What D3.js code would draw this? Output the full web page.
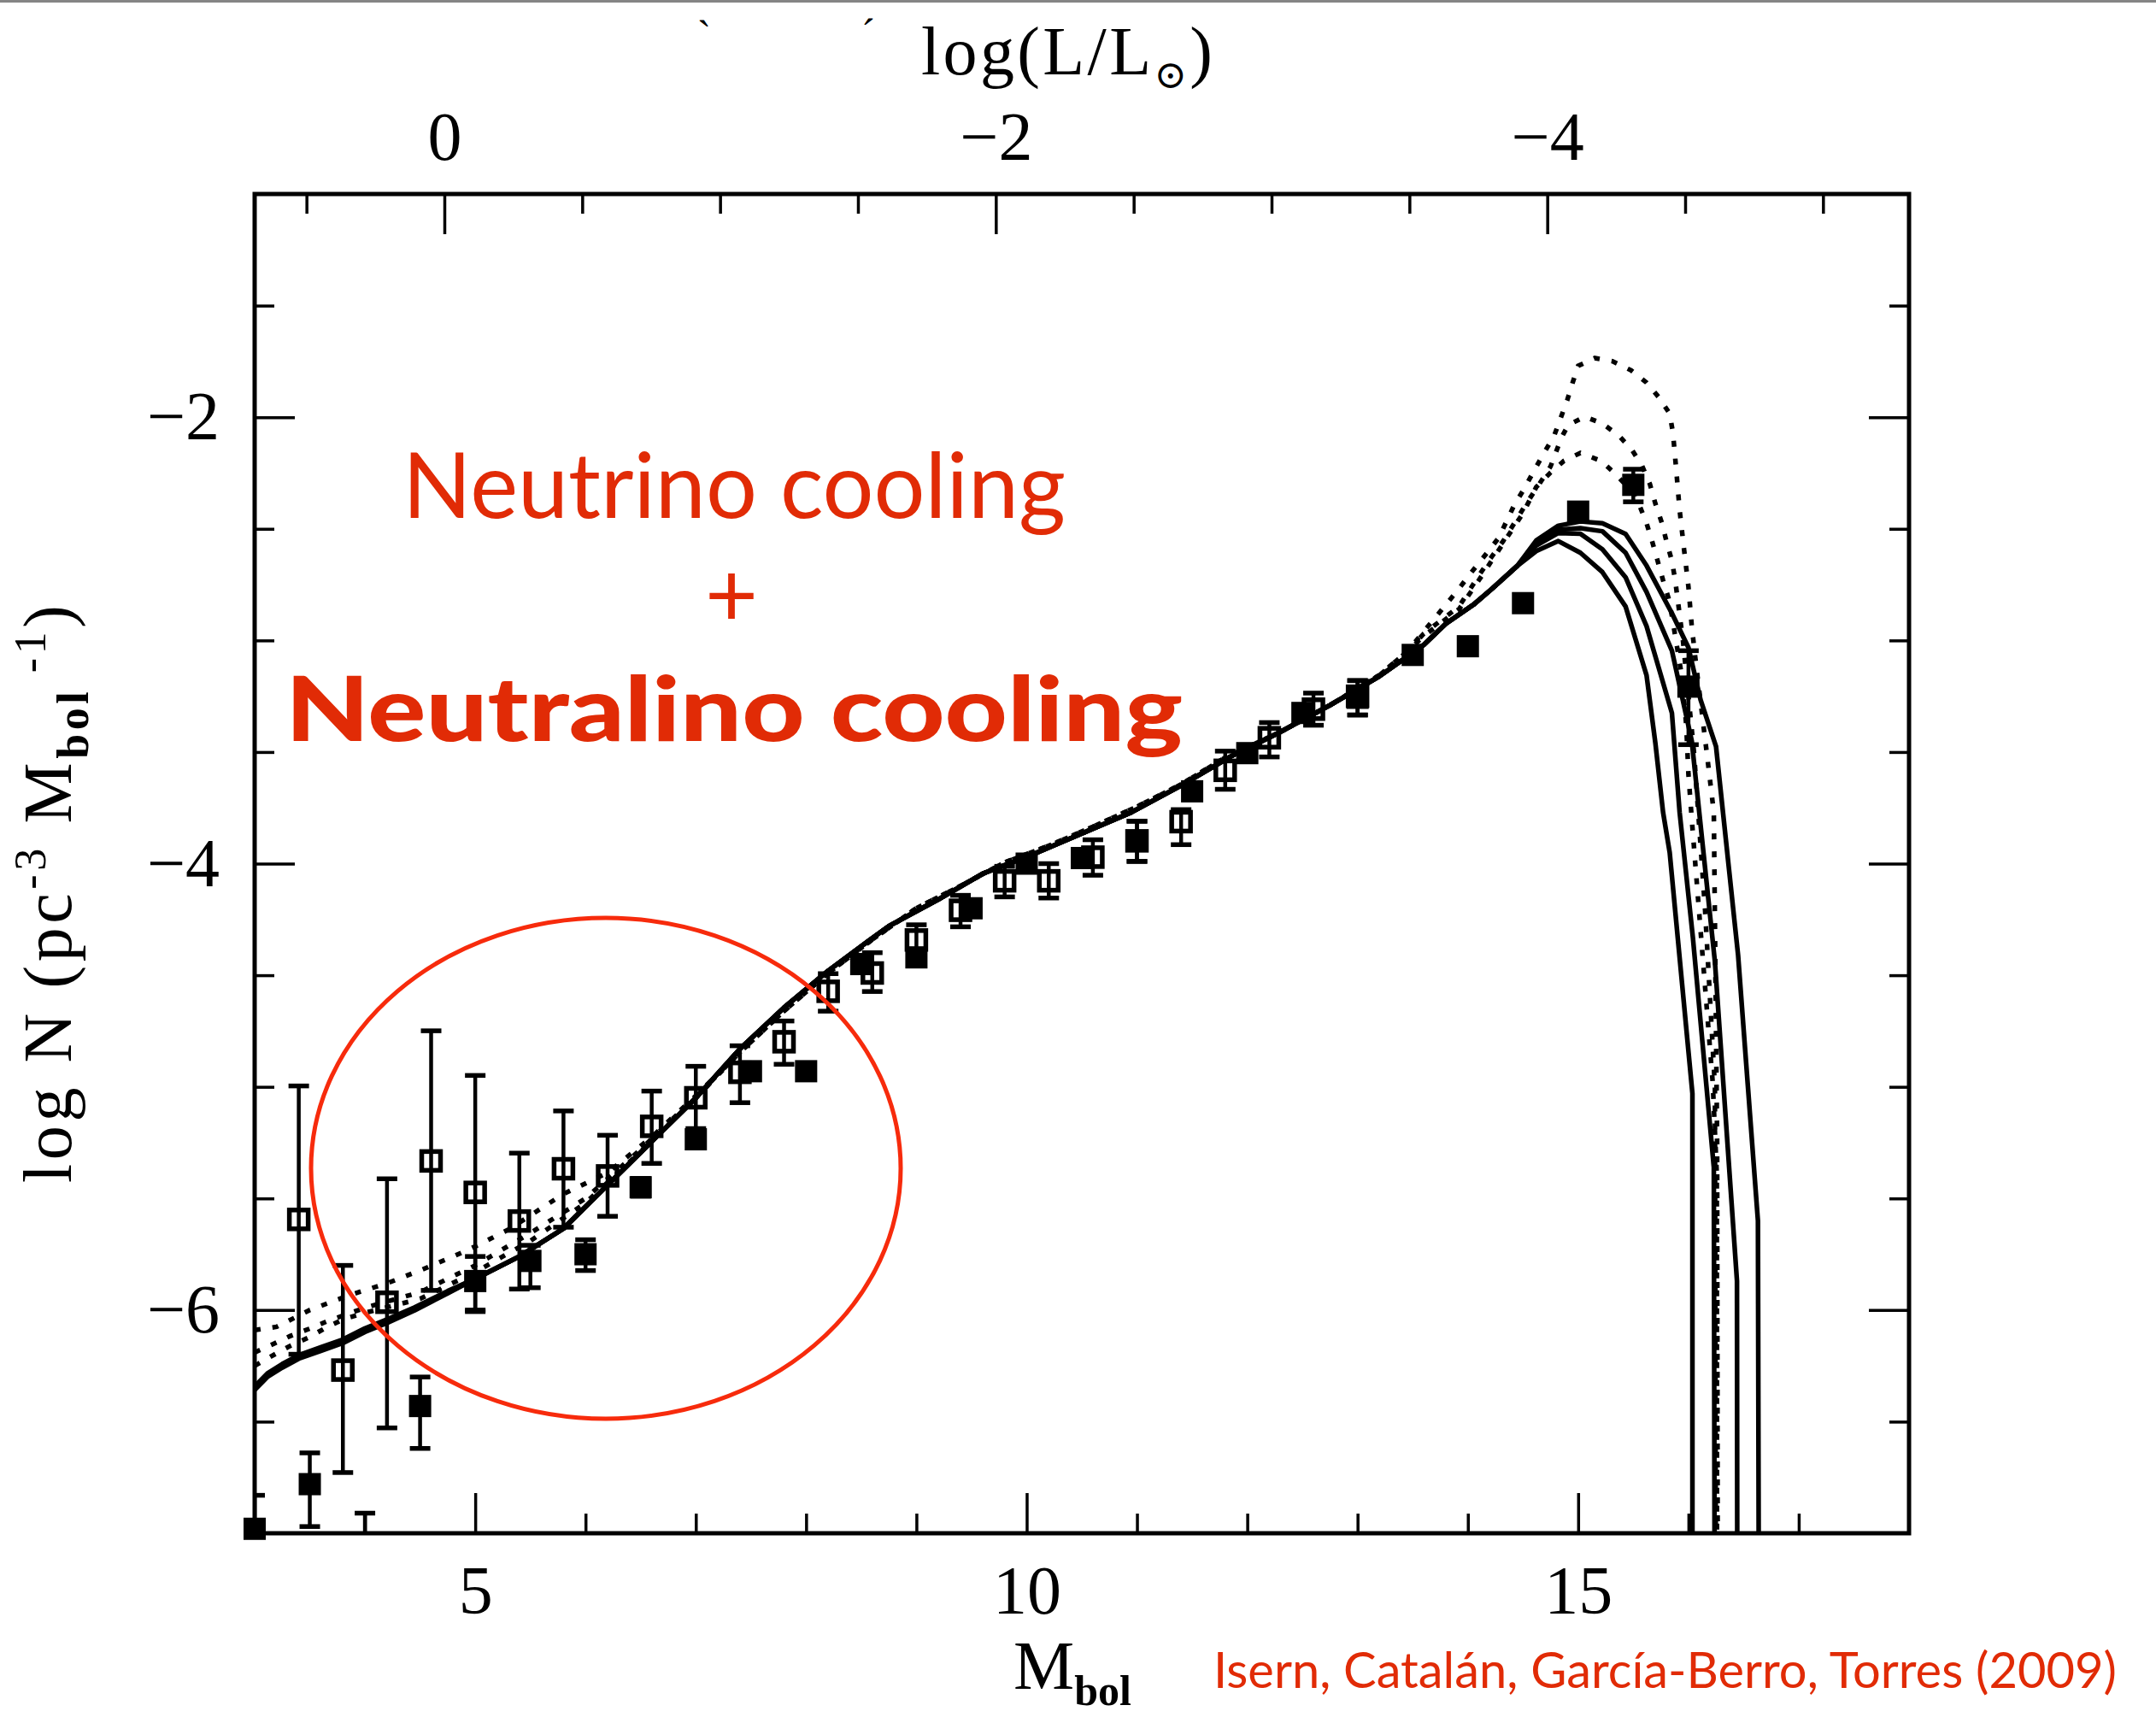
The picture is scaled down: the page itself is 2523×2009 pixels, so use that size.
<!DOCTYPE html>
<html><head><meta charset="utf-8">
<script src="https://cdn.jsdelivr.net/npm/d3@7"></script>
<style>
html,body{margin:0;padding:0;background:#fff;}
svg{display:block;}
</style></head><body>
<svg id="chart" width="2523" height="2009"></svg>
<script>
// ---------------- DATA ----------------
// Filled squares (Mbol, log N, error low, error high)
const filledMbol = [3.0, 3.5, 4.0, 4.5, 5.0, 5.5, 6.0, 6.5, 7.0, 7.5, 8.0, 8.5, 9.0, 9.5, 10.0, 10.5, 11.0, 11.5, 12.0, 12.5, 13.0, 13.5, 14.0, 14.5, 15.0, 15.5, 16.0];
const filledLogN = [-6.98, -6.78, -7.25, -6.43, -5.87, -5.78, -5.75, -5.45, -5.235, -4.93, -4.93, -4.45, -4.42, -4.20, -4.00, -3.975, -3.898, -3.676, -3.505, -3.325, -3.257, -3.065, -3.026, -2.833, -2.423, -2.303, -3.207];
const filledErrLo = [-7.2, -6.97, -7.5, -6.62, -6.007, -5.90, -5.823, -5.49, -5.27, -4.96, null, null, null, null, null, null, -3.99, null, null, null, -3.334, null, null, null, null, -2.379, -3.467];
const filledErrHi = [-6.83, -6.64, -6.91, -6.30, -5.76, -5.71, -5.685, -5.41, -5.20, -4.90, null, null, null, null, null, null, -3.81, null, null, null, -3.18, null, null, null, null, -2.233, -3.046];

// Open squares
const openMbol = [3.4, 3.8, 4.2, 4.6, 5.0, 5.4, 5.8, 6.2, 6.6, 7.0, 7.4, 7.8, 8.2, 8.6, 9.0, 9.4, 9.8, 10.2, 10.6, 11.0, 11.4, 11.8, 12.2, 12.6, 13.0];
const openLogN = [-5.594, -6.269, -5.965, -5.332, -5.473, -5.601, -5.367, -5.399, -5.177, -5.049, -4.935, -4.798, -4.572, -4.49, -4.342, -4.209, -4.077, -4.077, -3.971, -3.898, -3.812, -3.582, -3.436, -3.308, -3.25];
const openErrLo = [-6.198, -6.728, -6.528, -5.912, -6.0, -5.906, -5.629, -5.580, -5.343, -5.187, -5.071, -4.899, -4.661, -4.573, -4.41, -4.283, -4.149, -4.154, -4.052, -3.99, -3.915, -3.667, -3.522, -3.380, -3.334];
const openErrHi = [-4.996, -5.800, -5.412, -4.749, -4.949, -5.297, -5.108, -5.217, -5.019, -4.908, -4.816, -4.705, -4.493, -4.399, -4.274, -4.142, -4.012, -4.0, -3.893, -3.81, -3.758, -3.496, -3.368, -3.236, -3.18];

// Solid model curves: individual heads + common part + individual tails
const solidHead1 = [[3.0,-6.358],[3.12,-6.298],[3.25,-6.258],[3.4,-6.218],[3.6,-6.183],[3.8,-6.148],[4.0,-6.098],[4.2,-6.058],[4.45,-6.002],[4.75,-5.925]];
const solidHead2 = [[3.0,-6.353],[3.12,-6.293],[3.25,-6.253],[3.4,-6.213],[3.6,-6.178],[3.8,-6.143],[4.0,-6.093],[4.2,-6.053],[4.45,-5.997],[4.75,-5.922]];
const solidHead3 = [[3.0,-6.347],[3.12,-6.287],[3.25,-6.247],[3.4,-6.207],[3.6,-6.172],[3.8,-6.137],[4.0,-6.087],[4.2,-6.047],[4.45,-5.993],[4.75,-5.918]];
const solidHead4 = [[3.0,-6.342],[3.12,-6.282],[3.25,-6.242],[3.4,-6.202],[3.6,-6.167],[3.8,-6.132],[4.0,-6.082],[4.2,-6.042],[4.45,-5.988],[4.75,-5.915]];
const solidShared = [[5.0,-5.86],[5.4,-5.76],[5.8,-5.635],[6.2,-5.44],[6.6,-5.245],[7.0,-5.05],[7.4,-4.83],[7.8,-4.645],[8.2,-4.48],[8.5,-4.37],[8.75,-4.28],[9.2,-4.16],[9.6,-4.045],[10.05,-3.96],[10.5,-3.865],[10.95,-3.77],[11.4,-3.65],[11.85,-3.52],[12.3,-3.41],[12.75,-3.29],[13.2,-3.16],[13.6,-3.02],[13.8,-2.925],[14.05,-2.84],[14.22,-2.768],[14.45,-2.665]];
const solidTail1 = [[14.62,-2.60],[14.82,-2.555],[15.02,-2.607],[15.22,-2.694],[15.43,-2.848],[15.62,-3.156],[15.70,-3.46],[15.77,-3.77],[15.83,-3.95],[16.036,-5.03],[16.036,-9]];
const solidTail2 = [[14.62,-2.575],[14.82,-2.519],[15.02,-2.522],[15.22,-2.592],[15.43,-2.717],[15.62,-2.936],[15.85,-3.325],[15.92,-3.77],[16.04,-4.33],[16.23,-5.36],[16.244,-9]];
const solidTail3 = [[14.62,-2.565],[14.82,-2.504],[15.02,-2.497],[15.22,-2.511],[15.43,-2.607],[15.62,-2.783],[15.85,-3.046],[16.03,-3.45],[16.24,-4.44],[16.44,-5.87],[16.446,-9]];
const solidTail4 = [[14.62,-2.552],[14.82,-2.486],[15.02,-2.467],[15.22,-2.475],[15.43,-2.523],[15.62,-2.665],[15.85,-2.878],[16.0,-3.032],[16.11,-3.266],[16.25,-3.475],[16.45,-4.41],[16.63,-5.60],[16.646,-9]];

// Dotted model curves
const dottedHead1 = [[3.0,-6.09],[3.2,-6.075],[3.5,-6.0],[3.85,-5.935],[4.2,-5.88],[4.5,-5.823],[4.8,-5.76],[5.0,-5.715],[5.3,-5.64],[5.8,-5.48],[6.2,-5.385],[6.6,-5.225],[7.0,-5.04]];
const dottedHead2 = [[3.0,-6.19],[3.17,-6.152],[3.32,-6.117],[3.49,-6.085],[3.66,-6.05],[4.0,-5.99],[4.5,-5.92],[5.0,-5.80],[5.5,-5.655],[6.0,-5.5],[6.5,-5.28],[7.0,-5.045]];
const dottedHead3 = [[3.0,-6.25],[3.155,-6.206],[3.32,-6.161],[3.49,-6.123],[3.65,-6.078],[3.81,-6.04],[3.98,-6.015],[4.5,-5.95],[5.0,-5.83],[5.5,-5.69],[6.0,-5.52],[6.5,-5.29],[7.0,-5.05]];
const dottedShared = [[7.4,-4.845],[7.8,-4.66],[8.2,-4.49],[8.6,-4.34],[9.0,-4.2],[9.4,-4.1],[9.8,-3.995],[10.2,-3.92],[10.6,-3.835],[11.0,-3.745],[11.4,-3.645],[11.8,-3.525],[12.3,-3.41],[12.75,-3.29],[13.2,-3.155],[13.45,-3.05]];
const dottedTail1 = [[13.6,-2.96],[13.9,-2.78],[14.04,-2.69],[14.17,-2.61],[14.28,-2.54],[14.42,-2.394],[14.51,-2.321],[14.6,-2.24],[14.69,-2.16],[14.78,-2.086],[14.9,-1.925],[14.95,-1.845],[15.0,-1.77],[15.15,-1.735],[15.31,-1.749],[15.48,-1.79],[15.62,-1.845],[15.73,-1.91],[15.83,-1.984],[15.86,-2.072],[15.89,-2.24],[15.92,-2.416],[15.96,-2.592],[16.0,-2.76],[16.03,-2.936],[16.07,-3.112],[16.17,-3.52],[16.23,-3.77],[16.26,-5.25],[16.27,-9]];
const dottedTail2 = [[13.6,-2.97],[13.92,-2.848],[14.1,-2.709],[14.2,-2.636],[14.32,-2.555],[14.44,-2.46],[14.53,-2.387],[14.63,-2.313],[14.75,-2.22],[14.85,-2.09],[14.91,-2.035],[15.06,-1.998],[15.22,-2.028],[15.37,-2.083],[15.49,-2.148],[15.58,-2.218],[15.65,-2.299],[15.7,-2.387],[15.76,-2.475],[15.8,-2.555],[15.85,-2.643],[15.88,-2.731],[15.95,-3.0],[16.05,-3.5],[16.15,-4.2],[16.24,-5.0],[16.255,-9]];
const dottedTail3 = [[13.6,-2.98],[13.92,-2.86],[14.1,-2.73],[14.3,-2.58],[14.5,-2.43],[14.62,-2.313],[14.75,-2.248],[14.87,-2.196],[15.02,-2.16],[15.21,-2.196],[15.34,-2.255],[15.52,-2.35],[15.62,-2.475],[15.67,-2.555],[15.72,-2.643],[15.77,-2.731],[15.82,-2.812],[15.85,-2.89],[15.94,-3.16],[15.98,-3.38],[16.0,-3.6],[16.03,-3.8],[16.11,-4.3],[16.22,-4.98],[16.257,-5.39],[16.26,-9]];

// Axis ticks
const bottomMajor = [5, 10, 15];
const bottomMinor = [4, 6, 7, 8, 9, 11, 12, 13, 14, 16, 17];
const topMajor = [0, -2, -4];
const topMinor = [0.5, -0.5, -1, -1.5, -2.5, -3, -3.5, -4.5, -5];
const leftMajor = [-2, -4, -6];
const leftMinor = [-1.5, -2.5, -3, -3.5, -4.5, -5, -5.5, -6.5];
const MSUN = 4.72;

// ---------------- DRAW ----------------
const svg = d3.select("#chart");
const P = {left: 298, right: 2234, top: 227, bottom: 1794};
const x = d3.scaleLinear().domain([3, 18]).range([P.left, P.right]);
const y = d3.scaleLinear().domain([-7, -1]).range([P.bottom, P.top]);
const xTop = d3.scaleLinear().domain([(MSUN - 3) / 2.5, (MSUN - 18) / 2.5]).range([P.left, P.right]);

const SERIF = "'Liberation Serif', 'DejaVu Serif', serif";
const SANS = "Lato, 'Open Sans', sans-serif";
const RED_TEXT = "#e12b06";
const RED_LINE = "#f72b0c";

svg.append("rect").attr("x", 0).attr("y", 0).attr("width", 2523).attr("height", 2009).attr("fill", "#fff");
svg.append("rect").attr("x", 0).attr("y", 0).attr("width", 2523).attr("height", 3).attr("fill", "#858585");

svg.append("defs").append("clipPath").attr("id", "plotclip")
  .append("rect").attr("x", P.left).attr("y", P.top)
  .attr("width", P.right - P.left).attr("height", P.bottom - P.top);

function styleAxis(g, withLabels) {
  g.select(".domain").remove();
  g.selectAll(".tick line").attr("stroke", "#000").attr("stroke-width", 3.5);
  g.selectAll(".tick text").attr("fill", "#000").style("font-family", SERIF).style("font-size", "80px");
  if (!withLabels) g.selectAll(".tick text").remove();
}
const fmt = d3.format("");

// bottom
svg.append("g").attr("transform", `translate(0,${P.bottom})`)
  .call(d3.axisBottom(x).tickValues(bottomMajor).tickSize(-47).tickSizeOuter(0).tickPadding(37).tickFormat(fmt))
  .call(g => styleAxis(g, true));
svg.append("g").attr("transform", `translate(0,${P.bottom})`)
  .call(d3.axisBottom(x).tickValues(bottomMinor).tickSize(-23).tickSizeOuter(0).tickFormat(""))
  .call(g => styleAxis(g, false));
// top
svg.append("g").attr("transform", `translate(0,${P.top})`)
  .call(d3.axisTop(xTop).tickValues(topMajor).tickSize(-47).tickSizeOuter(0).tickPadding(40).tickFormat(fmt))
  .call(g => styleAxis(g, true));
svg.append("g").attr("transform", `translate(0,${P.top})`)
  .call(d3.axisTop(xTop).tickValues(topMinor).tickSize(-23).tickSizeOuter(0).tickFormat(""))
  .call(g => styleAxis(g, false));
// left
svg.append("g").attr("transform", `translate(${P.left},0)`)
  .call(d3.axisLeft(y).tickValues(leftMajor).tickSize(-47).tickSizeOuter(0).tickPadding(41).tickFormat(fmt))
  .call(g => styleAxis(g, true));
svg.append("g").attr("transform", `translate(${P.left},0)`)
  .call(d3.axisLeft(y).tickValues(leftMinor).tickSize(-23).tickSizeOuter(0).tickFormat(""))
  .call(g => styleAxis(g, false));
// right
svg.append("g").attr("transform", `translate(${P.right},0)`)
  .call(d3.axisRight(y).tickValues(leftMajor).tickSize(-47).tickSizeOuter(0).tickFormat(""))
  .call(g => styleAxis(g, false));
svg.append("g").attr("transform", `translate(${P.right},0)`)
  .call(d3.axisRight(y).tickValues(leftMinor).tickSize(-23).tickSizeOuter(0).tickFormat(""))
  .call(g => styleAxis(g, false));

// curves
const line = d3.line().x(d => x(d[0])).y(d => y(d[1]));
const curvesG = svg.append("g").attr("clip-path", "url(#plotclip)");
[[solidHead1, solidTail1], [solidHead2, solidTail2], [solidHead3, solidTail3], [solidHead4, solidTail4]].forEach(([h, t]) => {
  curvesG.append("path").datum(h.concat(solidShared, t)).attr("d", line)
    .attr("fill", "none").attr("stroke", "#000").attr("stroke-width", 5.5).attr("stroke-linejoin", "round");
});
[[dottedHead1, dottedTail1], [dottedHead2, dottedTail2], [dottedHead3, dottedTail3]].forEach(([h, t]) => {
  curvesG.append("path").datum(h.concat(dottedShared, t)).attr("d", line)
    .attr("fill", "none").attr("stroke", "#000").attr("stroke-width", 5.5)
    .attr("stroke-dasharray", "7,14");
});

// error bars
function errData(xs, vs, lo, hi) {
  return xs.map((m, i) => ({m, v: vs[i], lo: lo[i], hi: hi[i]})).filter(d => d.lo !== null);
}
const errG = svg.append("g").attr("clip-path", "url(#plotclip)").attr("stroke", "#000");
const allErr = errData(openMbol, openLogN, openErrLo, openErrHi).concat(errData(filledMbol, filledLogN, filledErrLo, filledErrHi));
errG.selectAll("line.bar").data(allErr).join("line").attr("class", "bar")
  .attr("x1", d => x(d.m)).attr("x2", d => x(d.m))
  .attr("y1", d => y(d.lo)).attr("y2", d => y(d.hi)).attr("stroke-width", 4.5);
errG.selectAll("line.caplo").data(allErr).join("line").attr("class", "caplo")
  .attr("x1", d => x(d.m) - 12).attr("x2", d => x(d.m) + 12)
  .attr("y1", d => y(d.lo)).attr("y2", d => y(d.lo)).attr("stroke-width", 5.5);
errG.selectAll("line.caphi").data(allErr).join("line").attr("class", "caphi")
  .attr("x1", d => x(d.m) - 12).attr("x2", d => x(d.m) + 12)
  .attr("y1", d => y(d.hi)).attr("y2", d => y(d.hi)).attr("stroke-width", 5.5);

// open squares
const openPts = openMbol.map((m, i) => ({m, v: openLogN[i]}));
svg.append("g").selectAll("rect").data(openPts).join("rect")
  .attr("x", d => x(d.m) - 11).attr("y", d => y(d.v) - 11)
  .attr("width", 22).attr("height", 22)
  .attr("fill", "none").attr("stroke", "#000").attr("stroke-width", 5.5);
// filled squares
const filledPts = filledMbol.map((m, i) => ({m, v: filledLogN[i]})).filter(d => d.v >= -7.05);
svg.append("g").selectAll("rect").data(filledPts).join("rect")
  .attr("x", d => x(d.m) - 13).attr("y", d => y(d.v) - 13)
  .attr("width", 26).attr("height", 26).attr("fill", "#000");

// frame
svg.append("rect").attr("x", P.left).attr("y", P.top)
  .attr("width", P.right - P.left).attr("height", P.bottom - P.top)
  .attr("fill", "none").attr("stroke", "#000").attr("stroke-width", 5);

// red ellipse
svg.append("ellipse").attr("cx", 709).attr("cy", 1367).attr("rx", 345).attr("ry", 293)
  .attr("fill", "none").attr("stroke", RED_LINE).attr("stroke-width", 5);

// axis titles
const topTitle = svg.append("text").attr("x", 1078).attr("y", 87)
  .style("font-family", SERIF).style("font-size", "80px").attr("fill", "#000")
  .attr("textLength", 341).attr("lengthAdjust", "spacing");
topTitle.append("tspan").text("log(L/L");
topTitle.append("tspan").attr("dy", 16).style("font-size", "46px").text("⊙");
topTitle.append("tspan").attr("dy", -16).text(")");

const xTitle = svg.append("text").attr("x", 1186).attr("y", 1976)
  .style("font-family", SERIF).style("font-size", "80px").attr("fill", "#000");
xTitle.append("tspan").text("M");
xTitle.append("tspan").attr("dy", 19).style("font-size", "50px").style("font-weight", "bold").text("bol");

const yTitle = svg.append("text").attr("transform", "translate(83,1046) rotate(-90)")
  .attr("text-anchor", "middle")
  .style("font-family", SERIF).style("font-size", "80px").attr("fill", "#000")
  .attr("textLength", 676).attr("lengthAdjust", "spacing");
yTitle.append("tspan").text("log N (pc");
yTitle.append("tspan").attr("dy", -30).style("font-size", "52px").text("-3");
yTitle.append("tspan").attr("dy", 30).text(" M");
yTitle.append("tspan").attr("dy", 20).style("font-size", "52px").style("font-weight", "bold").text("bol");
yTitle.append("tspan").attr("dy", -50).style("font-size", "52px").text(" -1");
yTitle.append("tspan").attr("dy", 30).text(")");

// stray accent marks at top
svg.append("text").attr("x", 816).attr("y", 58).style("font-family", SERIF).style("font-size", "48px").attr("fill", "#000").text("`");
svg.append("text").attr("x", 1008).attr("y", 56).style("font-family", SERIF).style("font-size", "48px").attr("fill", "#000").text("´");

// red annotations
svg.append("text").attr("x", 471).attr("y", 606)
  .attr("textLength", 776).attr("lengthAdjust", "spacingAndGlyphs")
  .style("font-family", SANS).style("font-size", "107px").attr("fill", RED_TEXT)
  .text("Neutrino cooling");
svg.append("text").attr("x", 856).attr("y", 733).attr("text-anchor", "middle")
  .style("font-family", SANS).style("font-size", "107px").attr("fill", RED_TEXT)
  .text("+");
svg.append("text").attr("x", 334).attr("y", 867)
  .attr("textLength", 1050).attr("lengthAdjust", "spacingAndGlyphs")
  .style("font-family", SANS).style("font-size", "105px").style("font-weight", "900").attr("fill", RED_TEXT)
  .text("Neutralino cooling");
svg.append("text").attr("x", 1420).attr("y", 1975)
  .attr("textLength", 1057).attr("lengthAdjust", "spacingAndGlyphs")
  .style("font-family", SANS).style("font-size", "58px").attr("fill", RED_TEXT)
  .text("Isern, Catalán, García-Berro, Torres (2009)");
</script>
</body></html>
